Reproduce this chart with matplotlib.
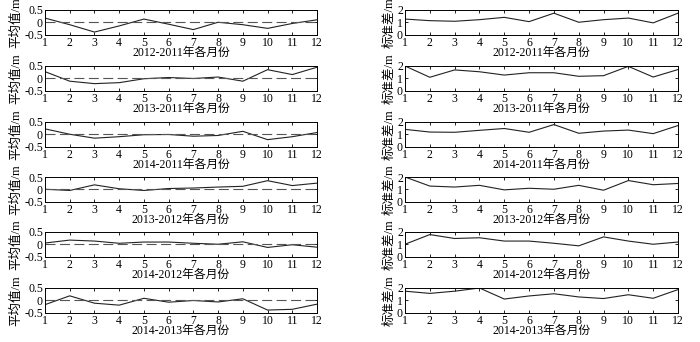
import numpy as np
import matplotlib.pyplot as plt

plt.rcParams['font.family'] = ['Liberation Serif', 'Noto Sans CJK SC']
plt.rcParams['font.size'] = 8.5

months = np.arange(1, 13)
labels = ["2012-2011年各月份", "2013-2011年各月份", "2014-2011年各月份",
          "2013-2012年各月份", "2014-2012年各月份", "2014-2013年各月份"]

# monthly mean differences (m)
mean_1211 = [0.17, -0.1, -0.4, -0.15, 0.13, -0.08, -0.3, 0.0, -0.1, -0.25, -0.05, 0.1]
mean_1311 = [0.27, -0.12, -0.22, -0.18, -0.02, 0.03, -0.01, 0.05, -0.12, 0.35, 0.15, 0.45]
mean_1411 = [0.22, 0.0, -0.16, -0.1, -0.02, -0.01, -0.08, -0.05, 0.12, -0.22, -0.1, 0.07]
mean_1312 = [0.0, -0.05, 0.18, 0.02, -0.05, 0.03, 0.05, 0.09, 0.12, 0.35, 0.15, 0.25]
mean_1412 = [0.05, 0.17, 0.13, 0.04, 0.09, 0.09, 0.04, 0.0, 0.1, -0.13, -0.02, -0.12]
mean_1413 = [-0.18, 0.18, -0.12, -0.2, 0.08, -0.08, -0.01, -0.07, 0.06, -0.4, -0.37, -0.16]

# monthly standard deviations (m)
std_1211 = [1.26, 1.13, 1.08, 1.21, 1.4, 1.05, 1.74, 1.0, 1.21, 1.34, 0.95, 1.74]
std_1311 = [2.0, 1.08, 1.68, 1.53, 1.26, 1.45, 1.45, 1.16, 1.21, 1.97, 1.1, 1.71]
std_1411 = [1.4, 1.18, 1.16, 1.32, 1.47, 1.16, 1.79, 1.08, 1.26, 1.34, 1.05, 1.71]
std_1312 = [2.0, 1.26, 1.18, 1.32, 0.95, 1.08, 1.0, 1.32, 0.92, 1.71, 1.37, 1.47]
std_1412 = [1.0, 1.79, 1.47, 1.53, 1.26, 1.26, 1.08, 0.87, 1.6, 1.26, 1.0, 1.18]
std_1413 = [1.74, 1.56, 1.74, 2.0, 1.1, 1.35, 1.53, 1.27, 1.14, 1.45, 1.16, 1.87]

means = [mean_1211, mean_1311, mean_1411, mean_1312, mean_1412, mean_1413]
stds = [std_1211, std_1311, std_1411, std_1312, std_1412, std_1413]

fig = plt.figure(figsize=(7, 3.42), dpi=100)
W, H = 700, 342
tops = [10, 66, 122, 177, 232, 288]
h = 24.5

def style(ax):
    ax.set_xlim(1, 12)
    ax.set_xticks(months)
    ax.tick_params(direction='in', top=True, right=True, length=2.5, width=0.6, pad=1.5)
    for s in ax.spines.values():
        s.set_linewidth(0.7)

for i in range(6):
    b = 1 - (tops[i] + h) / H
    # left: mean
    ax = fig.add_axes([45 / W, b, 272 / W, h / H])
    ax.plot(months, means[i], color='#222222', lw=0.8)
    ax.axhline(0, color='#555555', lw=0.8, ls=(0, (9, 4)))
    ax.set_ylim(-0.5, 0.5)
    ax.set_yticks([-0.5, 0, 0.5])
    ax.set_yticklabels(['-0.5', '0', '0.5'])
    style(ax)
    ax.set_ylabel("平均值/m", labelpad=1, fontsize=9)
    ax.set_xlabel(labels[i], labelpad=-1)
    # right: std
    ax2 = fig.add_axes([405 / W, b, 273 / W, h / H])
    ax2.plot(months, stds[i], color='#222222', lw=0.8)
    ax2.set_ylim(0, 2)
    ax2.set_yticks([0, 1, 2])
    style(ax2)
    ax2.set_ylabel("标准差/m", labelpad=1, fontsize=9)
    ax2.set_xlabel(labels[i], labelpad=-1)

plt.savefig("out.png", dpi=100)
